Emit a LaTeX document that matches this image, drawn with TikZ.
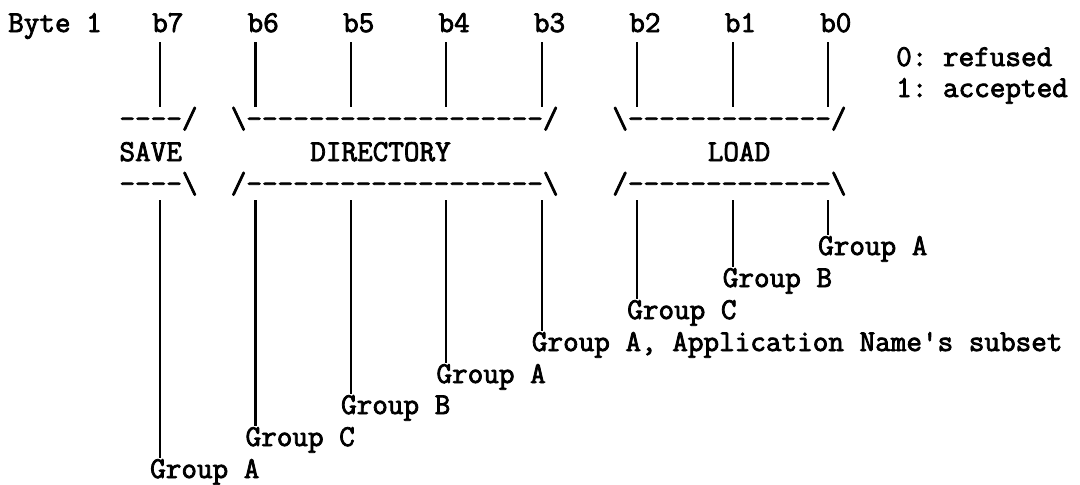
\documentclass[tikz,border=0pt]{standalone}
\usepackage{fontspec}
\setmonofont{Latin Modern Mono}[FakeBold=2.6]
\begin{document}
\begin{tikzpicture}[x=1pt,y=-1pt,
  txt/.style={inner sep=0pt,anchor=base west,font=\ttfamily\fontsize{30.3}{32}\selectfont},
  bitline/.style={line width=2.2pt}]
\useasboundingbox (0,0) rectangle (1080,485);
% header row
\node[txt] (byte) at (8,32) {Byte 1};
\node[txt] (lb7) at (152,32) {b7};
\node[txt] (lb6) at (247.4,32) {b6};
\node[txt] (lb5) at (342.9,32) {b5};
\node[txt] (lb4) at (438.3,32) {b4};
\node[txt] (lb3) at (533.7,32) {b3};
\node[txt] (lb2) at (629.1,32) {b2};
\node[txt] (lb1) at (724.6,32) {b1};
\node[txt] (lb0) at (820,32) {b0};
\node[txt] (k0) at (896,66) {0: refused};
\node[txt] (k1) at (896,97) {1: accepted};
% brackets
\node[txt] (s1) at (119.3,128) {----/};
\node[txt] (d1) at (230.6,128) {\textbackslash-------------------/};
\node[txt] (l1) at (612.2,128) {\textbackslash-------------/};
\node[txt] (save) at (119.3,161) {SAVE};
\node[txt] (dir) at (310.1,161) {DIRECTORY};
\node[txt] (load) at (707.6,161) {LOAD};
\node[txt] (s2) at (119.3,193) {----\textbackslash};
\node[txt] (d2) at (230.6,193) {/-------------------\textbackslash};
\node[txt] (l2) at (612.2,193) {/-------------\textbackslash};
% group labels
\node[txt] (g0) at (818,255) {Group A};
\node[txt] (g1) at (722.6,287) {Group B};
\node[txt] (g2) at (627.1,319) {Group C};
\node[txt] (g3) at (531.7,351) {Group A, Application Name's subset};
\node[txt] (g4) at (436.3,383) {Group A};
\node[txt] (g5) at (340.9,414) {Group B};
\node[txt] (g6) at (245.4,446) {Group C};
\node[txt] (g7) at (150,478) {Group A};
% line end points
\foreach \i/\x/\yb in {7/160/458,6/255.4/426,5/350.9/394,4/446.3/363,3/541.7/331,2/637.1/299,1/732.6/267,0/828/235}{
  \coordinate (ua\i) at (\x,42);
  \coordinate (ub\i) at (\x,107);
  \coordinate (da\i) at (\x,200);
  \coordinate (db\i) at (\x,\yb);
}
\foreach \i in {0,...,7}{
  \draw[bitline] (ua\i) -- (ub\i);
  \draw[bitline] (da\i) -- (db\i);
}
\end{tikzpicture}
\end{document}
